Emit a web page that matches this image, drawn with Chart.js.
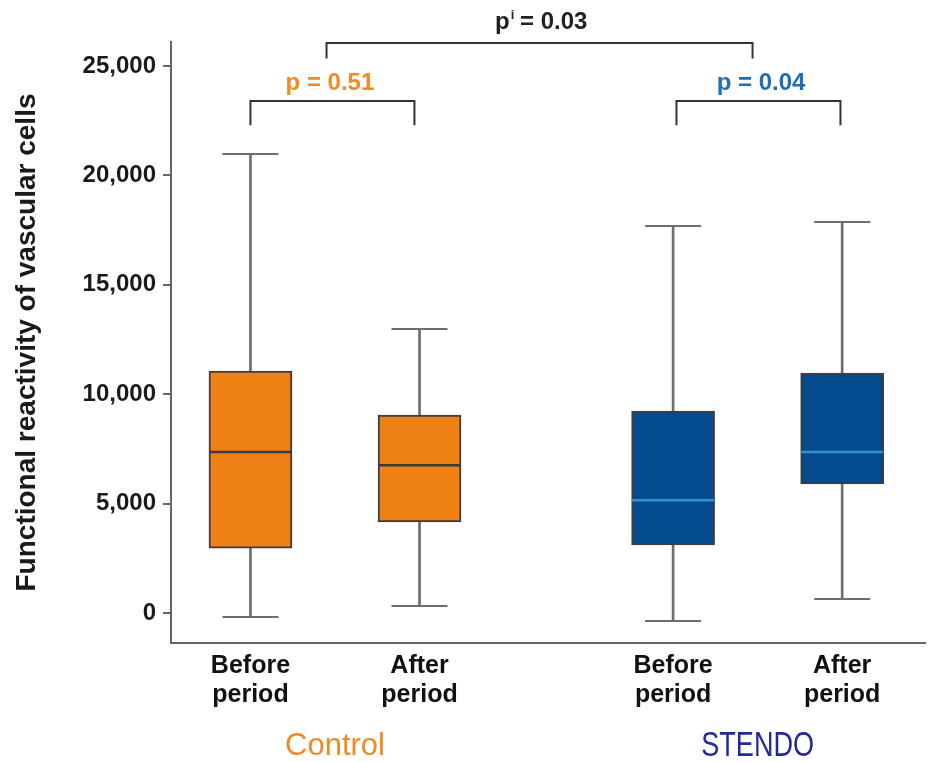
<!DOCTYPE html>
<html>
<head>
<meta charset="utf-8">
<script src="https://cdn.jsdelivr.net/npm/chart.js@4"></script>
<style>
  html, body { margin: 0; padding: 0; background: #fff; overflow: hidden; }
  canvas { display: block; }
</style>
</head>
<body>
<canvas id="chart" width="933" height="762"></canvas>
<script>
// box plot values
const categories = [["Before", "period"], ["After", "period"], ["Before", "period"], ["After", "period"]];
const xPos = [1, 2, 3.5, 4.5];
const whiskerLow = [-180, 320, -370, 640];
const q1 = [2970, 4160, 3110, 5900];
const median = [7360, 6760, 5160, 7360];
const q3 = [11060, 9050, 9230, 10970];
const whiskerHigh = [20980, 12980, 17690, 17870];
const yTicks = [0, 5000, 10000, 15000, 20000, 25000];

const groupNames = ["Control", "STENDO"];
const groupCenters = [1.5, 4.0];
const pValues = ["p = 0.51", "p = 0.04"];
const interactionP = "0.03";

const ORANGE = "#EF8114";
const BLUE = "#034A8E";
const boxColors = [ORANGE, ORANGE, BLUE, BLUE];
const medianColors = ["#3b3b3b", "#3b3b3b", "#2F93D8", "#2F93D8"];
const LINE_GRAY = "#6e6e6e";
const FONT = "'Liberation Sans', Arial, sans-serif";

const pts = (vals) => xPos.map((x, i) => ({ x: x, y: vals[i] }));

const annotations = {
  id: "annotations",
  afterDraw(chart) {
    const ctx = chart.ctx;
    const xs = chart.scales.x;
    const ys = chart.scales.y;
    ctx.save();
    ctx.strokeStyle = "#333";
    ctx.lineWidth = 2;

    function bracket(x1, x2, yTop, yLeg) {
      const a = xs.getPixelForValue(x1);
      const b = xs.getPixelForValue(x2);
      const t = ys.getPixelForValue(yTop);
      const l = ys.getPixelForValue(yLeg);
      ctx.beginPath();
      ctx.moveTo(a, l);
      ctx.lineTo(a, t);
      ctx.lineTo(b, t);
      ctx.lineTo(b, l);
      ctx.stroke();
    }
    bracket(1, 1.97, 23400, 22300);
    bracket(3.52, 4.49, 23400, 22300);
    bracket(1.45, 3.97, 26050, 25350);

    ctx.textAlign = "center";
    ctx.textBaseline = "alphabetic";
    ctx.font = "bold 24px " + FONT;
    ctx.fillStyle = "#F08A24";
    ctx.fillText(pValues[0], xs.getPixelForValue(1.47), 90);
    ctx.fillStyle = "#1F6DB2";
    ctx.fillText(pValues[1], xs.getPixelForValue(4.02), 90);

    // p with superscript i
    ctx.fillStyle = "#222";
    const cx = xs.getPixelForValue(2.72);
    const p = "p";
    const rest = " = " + interactionP;
    ctx.font = "bold 24px " + FONT;
    const wp = ctx.measureText(p).width;
    const wr = ctx.measureText(rest).width;
    ctx.font = "bold 13px " + FONT;
    const wi = ctx.measureText("i").width;
    const start = cx - (wp + wi + wr) / 2;
    ctx.textAlign = "left";
    ctx.font = "bold 24px " + FONT;
    ctx.fillText(p, start, 29);
    ctx.font = "bold 13px " + FONT;
    ctx.fillText("i", start + wp + 1, 19);
    ctx.font = "bold 24px " + FONT;
    ctx.fillText(rest, start + wp + wi, 29);

    // group labels
    ctx.textAlign = "center";
    ctx.font = "31px " + FONT;
    ctx.fillStyle = "#F08A24";
    ctx.fillText(groupNames[0], xs.getPixelForValue(groupCenters[0]), 755);
    ctx.save();
    ctx.translate(xs.getPixelForValue(groupCenters[1]), 756);
    ctx.scale(0.82, 1.05);
    ctx.font = "33px " + FONT;
    ctx.fillStyle = "#23299A";
    ctx.fillText(groupNames[1], 0, 0);
    ctx.restore();
    ctx.restore();
  }
};

new Chart(document.getElementById("chart"), {
  type: "bar",
  data: {
    datasets: [
      {
        type: "line",
        data: pts(median),
        showLine: false,
        pointStyle: "line",
        pointRadius: 41,
        pointBorderWidth: 2.5,
        pointBorderColor: medianColors,
        order: 0
      },
      {
        type: "bar",
        data: xPos.map((x, i) => ({ x: x, y: [q1[i], q3[i]] })),
        backgroundColor: boxColors,
        borderColor: "#3d3d3d",
        borderWidth: 2,
        borderSkipped: false,
        barThickness: 83,
        grouped: false,
        order: 1
      },
      {
        type: "line",
        data: pts(whiskerLow).concat(pts(whiskerHigh)),
        showLine: false,
        pointStyle: "line",
        pointRadius: 28,
        pointBorderWidth: 2,
        pointBorderColor: LINE_GRAY,
        order: 2
      },
      {
        type: "bar",
        data: xPos.map((x, i) => ({ x: x, y: [whiskerLow[i], whiskerHigh[i]] })),
        backgroundColor: LINE_GRAY,
        barThickness: 2,
        grouped: false,
        order: 3
      }
    ]
  },
  options: {
    responsive: false,
    animation: false,
    layout: { autoPadding: false, padding: { top: 42, right: 8, left: 0, bottom: 0 } },
    plugins: {
      legend: { display: false },
      tooltip: { enabled: false }
    },
    scales: {
      x: {
        type: "linear",
        offset: false,
        min: 0.53,
        max: 4.99,
        afterBuildTicks: (scale) => {
          scale.ticks = xPos.map((v) => ({ value: v }));
        },
        afterFit: (scale) => {
          scale.height = 119;
          scale.paddingLeft = 0;
          scale.paddingRight = 0;
        },
        grid: { display: false, drawTicks: false },
        border: { display: true, color: "#666", width: 2 },
        ticks: {
          autoSkip: false,
          maxRotation: 0,
          padding: 8,
          color: "#111",
          font: { family: FONT, size: 25, weight: "bold", lineHeight: 1.18 },
          callback: (value, index) => categories[index]
        }
      },
      y: {
        min: -1370,
        max: 26100,
        afterBuildTicks: (scale) => {
          scale.ticks = yTicks.map((v) => ({ value: v }));
        },
        afterFit: (scale) => {
          scale.width = 171;
        },
        grid: { drawOnChartArea: false, drawTicks: true, tickLength: 8, color: "#666", lineWidth: 2 },
        border: { display: true, color: "#666", width: 2 },
        ticks: {
          padding: 7,
          color: "#1a1a1a",
          font: { family: FONT, size: 24, weight: "bold" },
          callback: (value) => value.toLocaleString("en-US")
        },
        title: {
          display: true,
          text: "Functional reactivity of vascular cells",
          color: "#1a1a1a",
          padding: { top: 10, bottom: 0 },
          font: { family: FONT, size: 28, weight: "bold" }
        }
      }
    }
  },
  plugins: [annotations]
});
</script>
</body>
</html>
